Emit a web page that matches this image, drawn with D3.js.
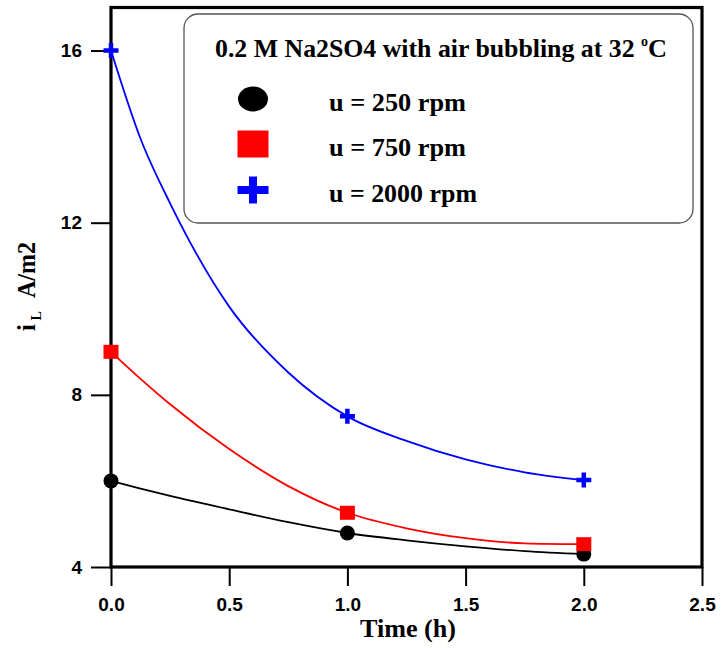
<!DOCTYPE html>
<html>
<head>
<meta charset="utf-8">
<script src="https://cdn.jsdelivr.net/npm/d3@7"></script>
<style>
  body { margin: 0; background: #fff; }
  .serif { font-family: "Liberation Serif", "Times New Roman", serif; font-weight: bold; }
</style>
</head>
<body>
<div id="vis"></div>
<script>
const FRAME_WIDTH = 721;
const FRAME_HEIGHT = 648;
const MARGINS = {left: 111, right: 19, top: 7.5, bottom: 81};

const VIS_WIDTH = FRAME_WIDTH - MARGINS.left - MARGINS.right;
const VIS_HEIGHT = FRAME_HEIGHT - MARGINS.top - MARGINS.bottom;

// measured points
const TIMES = [0, 1, 2];
const RPM_250 = [6.0, 4.79, 4.3];
const RPM_750 = [9.0, 5.26, 4.53];
const RPM_2000 = [16.0, 7.5, 6.02];

// fitted curves
const FIT_TIMES = [0, 0.125, 0.25, 0.5, 0.75, 1, 1.25, 1.5, 1.75, 2];
const FIT_250 = [6.0, 5.82, 5.65, 5.34, 5.04, 4.79, 4.62, 4.48, 4.37, 4.3];
const FIT_750 = [9.0, 8.37, 7.78, 6.74, 5.88, 5.26, 4.9, 4.67, 4.55, 4.53];
const FIT_2000 = [16.0, 13.95, 12.45, 10.05, 8.52, 7.5, 6.93, 6.5, 6.2, 6.02];

const X_TICKS = [0, 0.5, 1, 1.5, 2, 2.5];
const Y_TICKS = [4, 8, 12, 16];

const LEGEND_TITLE = '0.2 M Na2SO4 with air bubbling at 32 ';
const LABELS = ['u = 250 rpm', 'u = 750 rpm', 'u = 2000 rpm'];
const LABEL_WIDTHS = [137, 137, 148];

const FRAME = d3.select('#vis')
                .append('svg')
                    .attr('width', FRAME_WIDTH)
                    .attr('height', FRAME_HEIGHT);

const X_SCALE = d3.scaleLinear().domain([0, 2.5]).range([0, VIS_WIDTH]);
const Y_SCALE = d3.scaleLinear().domain([4, 17]).range([VIS_HEIGHT, 0]);

const G = FRAME.append('g')
    .attr('transform', 'translate(' + MARGINS.left + ',' + MARGINS.top + ')');

// axes (ticks only, frame drawn separately)
const xAxis = G.append('g')
    .attr('transform', 'translate(0,' + VIS_HEIGHT + ')')
    .call(d3.axisBottom(X_SCALE).tickValues(X_TICKS).tickFormat(d3.format('.1f'))
        .tickSize(19).tickPadding(12));
const yAxis = G.append('g')
    .call(d3.axisLeft(Y_SCALE).tickValues(Y_TICKS).tickFormat(d3.format('d'))
        .tickSize(20).tickPadding(9));
[xAxis, yAxis].forEach(a => {
    a.select('.domain').remove();
    a.attr('font-family', null).attr('font-size', null);
    a.selectAll('.tick line').attr('stroke', '#000').attr('stroke-width', 2);
    a.selectAll('.tick text')
        .attr('fill', '#000')
        .style('font-family', '"Liberation Sans", Arial, sans-serif')
        .style('font-weight', 'bold')
        .style('font-size', '19px');
});

// plot frame
G.append('rect')
    .attr('x', 0).attr('y', 0)
    .attr('width', VIS_WIDTH).attr('height', VIS_HEIGHT)
    .attr('fill', 'none').attr('stroke', '#000').attr('stroke-width', 3.2);

// legend box
const LEG = FRAME.append('g');
LEG.append('rect')
    .attr('x', 184).attr('y', 14).attr('width', 509).attr('height', 209)
    .attr('rx', 14).attr('ry', 14)
    .attr('fill', '#fff').attr('stroke', '#555').attr('stroke-width', 1.3);

const title = LEG.append('text')
    .attr('class', 'serif')
    .attr('x', 215).attr('y', 57)
    .attr('font-size', '25px')
    .attr('xml:space', 'preserve');
title.append('tspan').attr('textLength', 426).attr('lengthAdjust', 'spacingAndGlyphs').text(LEGEND_TITLE);
title.append('tspan').attr('font-size', '14px').attr('dy', -11).text('o');
title.append('tspan').attr('dy', 11).attr('textLength', 19).attr('lengthAdjust', 'spacingAndGlyphs').text('C');

function crossPath(cx, cy, w, h, t) {
    const p = d3.path();
    p.rect(cx - w / 2, cy - t / 2, w, t);
    p.rect(cx - t / 2, cy - h / 2, t, h);
    return p.toString();
}

const COLORS = ['#000', '#ff0000', '#0000ff'];
const ROWS = [99, 144, 190];

LEG.append('ellipse').attr('cx', 253).attr('cy', ROWS[0]).attr('rx', 15).attr('ry', 12.5).attr('fill', COLORS[0]);
LEG.append('rect').attr('x', 253 - 15.5).attr('y', ROWS[1] - 13.5).attr('width', 31).attr('height', 27).attr('fill', COLORS[1]);
LEG.append('path').attr('d', crossPath(253, ROWS[2], 31, 27, 8)).attr('fill', COLORS[2]);

LABELS.forEach((l, i) => {
    LEG.append('text')
        .attr('class', 'serif')
        .attr('x', 329).attr('y', ROWS[i] + 12)
        .attr('font-size', '26px')
        .attr('textLength', LABEL_WIDTHS[i])
        .attr('lengthAdjust', 'spacingAndGlyphs')
        .text(l);
});

// fitted curves
const line = d3.line()
    .x(d => X_SCALE(d[0]))
    .y(d => Y_SCALE(d[1]))
    .curve(d3.curveMonotoneX);

[FIT_250, FIT_750, FIT_2000].forEach((fit, i) => {
    G.append('path')
        .datum(FIT_TIMES.map((t, j) => [t, fit[j]]))
        .attr('d', line)
        .attr('fill', 'none')
        .attr('stroke', COLORS[i])
        .attr('stroke-width', 1.8);
});

// markers
G.selectAll('.c250')
    .data(TIMES.map((t, j) => [t, RPM_250[j]]))
    .enter().append('circle')
        .attr('cx', d => X_SCALE(d[0]))
        .attr('cy', d => Y_SCALE(d[1]))
        .attr('r', 7.5)
        .attr('fill', COLORS[0]);

G.selectAll('.s750')
    .data(TIMES.map((t, j) => [t, RPM_750[j]]))
    .enter().append('rect')
        .attr('x', d => X_SCALE(d[0]) - 7.5)
        .attr('y', d => Y_SCALE(d[1]) - 7)
        .attr('width', 15).attr('height', 14)
        .attr('fill', COLORS[1]);

G.selectAll('.p2000')
    .data(TIMES.map((t, j) => [t, RPM_2000[j]]))
    .enter().append('path')
        .attr('d', d => crossPath(X_SCALE(d[0]), Y_SCALE(d[1]), 15, 15, 4.5))
        .attr('fill', COLORS[2]);

// axis titles
FRAME.append('text')
    .attr('class', 'serif')
    .attr('x', 360)
    .attr('y', 637)
    .attr('font-size', '25px')
    .attr('textLength', 96)
    .attr('lengthAdjust', 'spacingAndGlyphs')
    .text('Time (h)');

const ylab = FRAME.append('text')
    .attr('class', 'serif')
    .attr('transform', 'translate(35,331) rotate(-90)')
    .attr('font-size', '25px')
    .attr('xml:space', 'preserve');
ylab.append('tspan').text('i');
ylab.append('tspan').attr('font-size', '14px').attr('dy', 6).text(' L');
ylab.append('tspan').attr('dy', -6).attr('x', 33).attr('textLength', 56).attr('lengthAdjust', 'spacingAndGlyphs').text('A/m2');
</script>
</body>
</html>
